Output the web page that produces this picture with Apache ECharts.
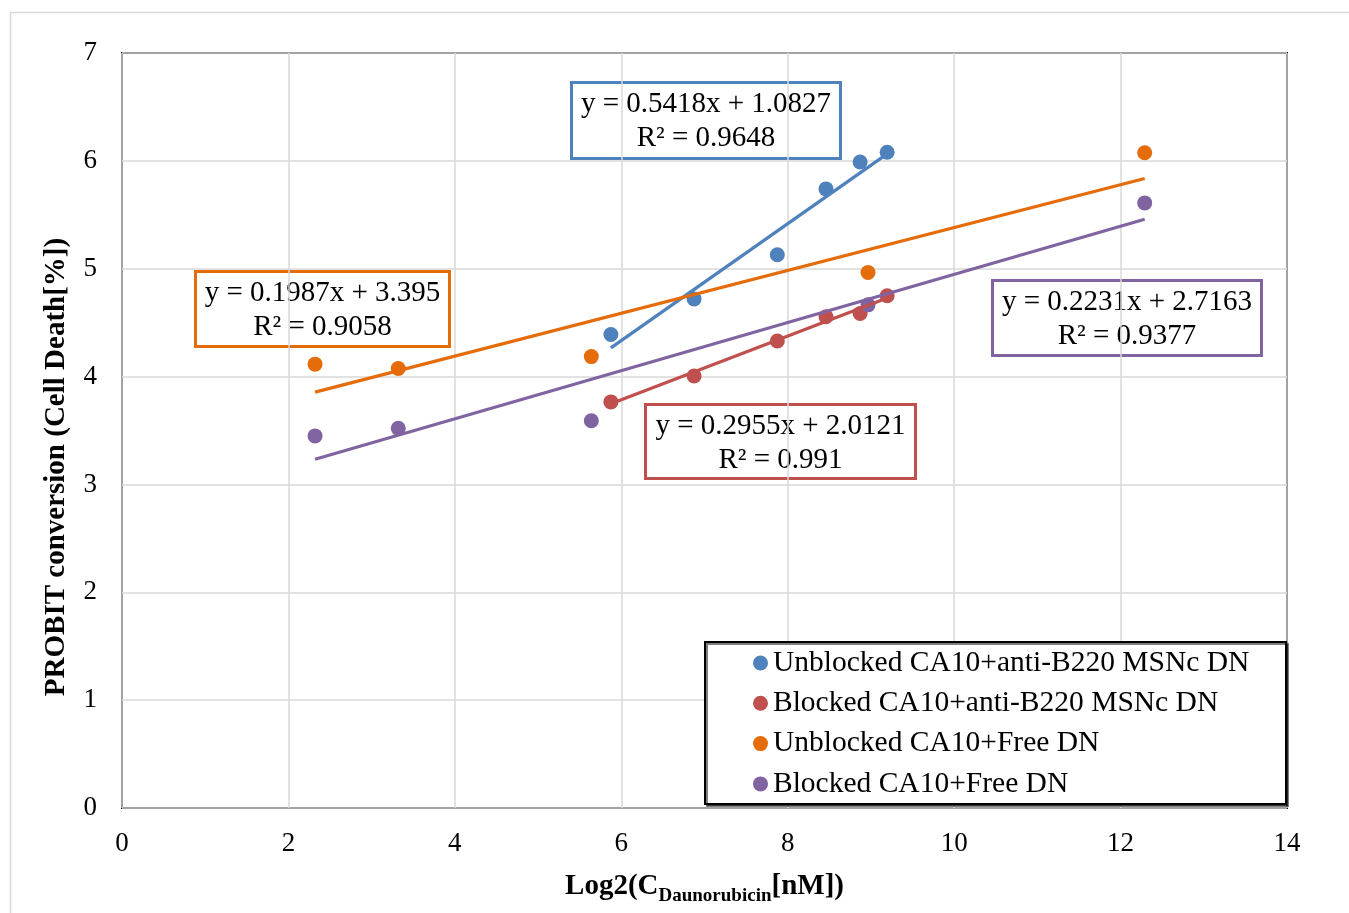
<!DOCTYPE html>
<html>
<head>
<meta charset="utf-8">
<script src="https://cdn.jsdelivr.net/npm/echarts@6/dist/echarts.min.js"></script>
<style>html,body{margin:0;padding:0;background:#fff;}#c{width:1349px;height:913px;}</style>
</head>
<body>
<div id="c"></div>
<script>
// ---- data ----
const seriesNames = ['Unblocked CA10+anti-B220 MSNc DN', 'Blocked CA10+anti-B220 MSNc DN', 'Unblocked CA10+Free DN', 'Blocked CA10+Free DN'];
const xAntiB220 = [5.875, 6.875, 7.875, 8.46, 8.87, 9.195];
const yUnblockedAnti = [4.39, 4.72, 5.13, 5.74, 5.99, 6.08];
const yBlockedAnti = [3.765, 4.005, 4.33, 4.555, 4.585, 4.75];
const xFree = [2.32, 3.32, 5.64, 8.965, 12.29];
const yUnblockedFree = [4.115, 4.075, 4.185, 4.965, 6.075];
const yBlockedFree = [3.45, 3.52, 3.59, 4.665, 5.61];
const slopes = [0.5418, 0.2955, 0.1987, 0.2231];
const intercepts = [1.0827, 2.0121, 3.395, 2.7163];
const r2 = ['0.9648', '0.991', '0.9058', '0.9377'];
const xTicks = [0, 2, 4, 6, 8, 10, 12, 14];
const yTicks = [0, 1, 2, 3, 4, 5, 6, 7];

const colors = ['#4F81BD', '#C0504D', '#E46C0A', '#8064A2'];
const xs = [xAntiB220, xAntiB220, xFree, xFree];
const ys = [yUnblockedAnti, yBlockedAnti, yUnblockedFree, yBlockedFree];
const FONT = '"Liberation Serif", "Times New Roman", serif';

const series = [];
for (let i = 0; i < 4; i++) {
  series.push({
    name: seriesNames[i], type: 'scatter', symbol: 'circle', symbolSize: 15,
    itemStyle: { color: colors[i], opacity: 1 }, z: 2,
    data: xs[i].map((x, k) => [x, ys[i][k]])
  });
}
for (let i = 0; i < 4; i++) {
  const x0 = Math.min(...xs[i]), x1 = Math.max(...xs[i]);
  series.push({
    name: 'trend' + i, type: 'line', symbol: 'none', z: 3, silent: true,
    lineStyle: { color: colors[i], width: 3.2 },
    data: [[x0, slopes[i] * x0 + intercepts[i]], [x1, slopes[i] * x1 + intercepts[i]]]
  });
}

function eqBox(i, x, y, w, h) {
  return {
    type: 'group', left: x, top: y, z: 10,
    children: [
      { type: 'rect', shape: { x: 0, y: 0, width: w, height: h }, style: { fill: 'none', stroke: colors[i], lineWidth: 3 } },
      { type: 'text', x: w / 2, y: 22, style: { text: 'y = ' + slopes[i] + 'x + ' + intercepts[i], font: '29px ' + FONT, fill: '#000', textAlign: 'center', textVerticalAlign: 'middle' } },
      { type: 'text', x: w / 2, y: 56, style: { text: 'R² = ' + r2[i], font: '29px ' + FONT, fill: '#000', textAlign: 'center', textVerticalAlign: 'middle' } }
    ]
  };
}

const chart = echarts.init(document.getElementById('c'));
chart.setOption({
  animation: false,
  backgroundColor: '#fff',
  textStyle: { fontFamily: FONT },
  grid: { left: 122, right: 62, top: 53, bottom: 105, show: true, borderColor: '#000', borderWidth: 2, backgroundColor: 'transparent' },
  xAxis: {
    type: 'value', min: xTicks[0], max: xTicks[xTicks.length - 1], interval: 2,
    axisLine: { show: false }, axisTick: { show: false },
    splitLine: { show: true, lineStyle: { color: '#d9d9d9', width: 1.5 } },
    axisLabel: { fontSize: 27, color: '#000', margin: 22, fontFamily: FONT },
    name: '{a|Log2(C}{s|Daunorubicin}{a|[nM])}', nameLocation: 'middle', nameGap: 62,
    nameTextStyle: {
      rich: {
        a: { fontSize: 29, fontWeight: 'bold', fontFamily: FONT, color: '#000', lineHeight: 34 },
        s: { fontSize: 19, fontWeight: 'bold', fontFamily: FONT, color: '#000', lineHeight: 34, padding: [18, 0, 0, 0] }
      }
    }
  },
  yAxis: {
    type: 'value', min: yTicks[0], max: yTicks[yTicks.length - 1], interval: 1,
    axisLine: { show: false }, axisTick: { show: false },
    splitLine: { show: true, lineStyle: { color: '#d9d9d9', width: 1.5 } },
    axisLabel: { fontSize: 27, color: '#000', margin: 25, fontFamily: FONT }
  },
  legend: {
    data: seriesNames, orient: 'vertical', left: 748, top: 642, z: 30,
    icon: 'circle', itemWidth: 15, itemHeight: 15, itemGap: 8.3,
    itemStyle: { opacity: 1 },
    textStyle: { fontSize: 29.5, color: '#000', fontFamily: FONT, lineHeight: 32 }
  },
  graphic: [
    { type: 'rect', left: 8, top: 10, z: -10, shape: { width: 1345, height: 910 }, style: { fill: 'none', stroke: '#d9d9d9', lineWidth: 1.5 } },
    { type: 'rect', left: 704, top: 641, z: 5, shape: { width: 581, height: 162 }, style: { fill: '#fff', stroke: '#000', lineWidth: 2, shadowColor: 'rgba(0,0,0,0.5)', shadowOffsetX: 2, shadowOffsetY: 2 } },
    {
      type: 'text', x: 57, y: 467, rotation: Math.PI / 2, z: 10,
      style: { text: 'PROBIT conversion (Cell Death[%])', font: 'bold 29px ' + FONT, fill: '#000', textAlign: 'center', textVerticalAlign: 'middle' }
    },
    eqBox(0, 569, 80, 269, 76),
    eqBox(2, 193, 269, 254, 75),
    eqBox(1, 643, 402, 270, 74),
    eqBox(3, 990, 278, 269, 75)
  ],
  series: series
});
</script>
</body>
</html>
